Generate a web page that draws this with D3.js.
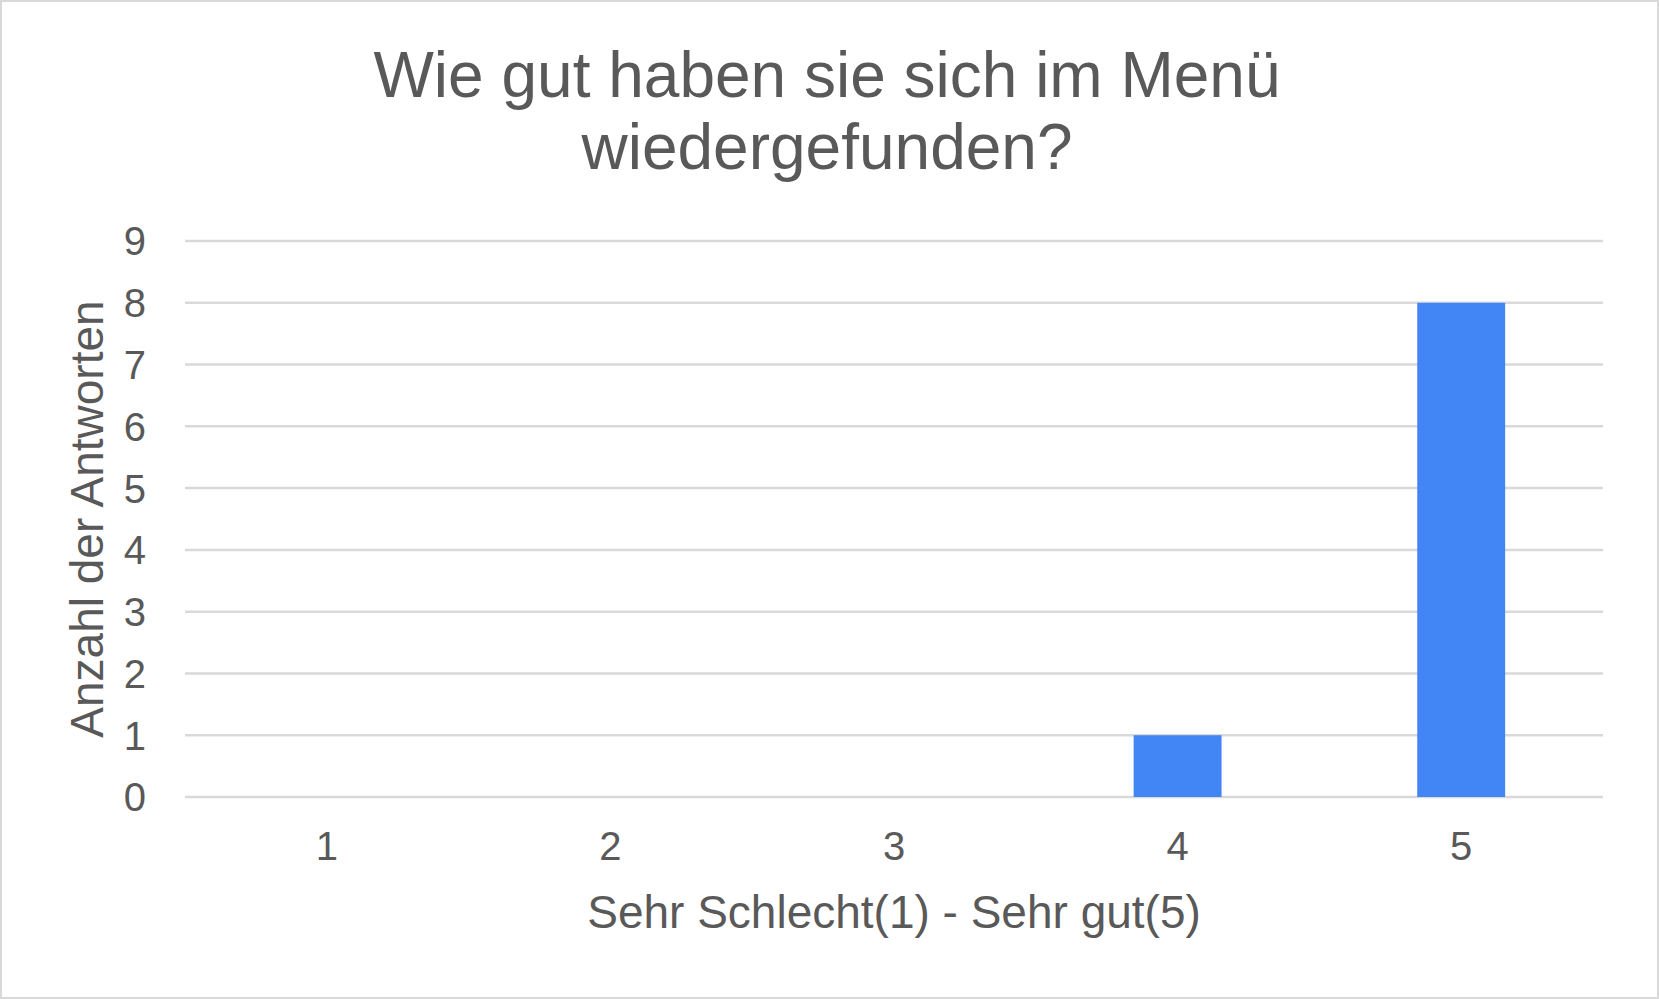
<!DOCTYPE html>
<html>
<head>
<meta charset="utf-8">
<script src="https://cdn.jsdelivr.net/npm/d3@7"></script>
<style>
  body { margin: 0; background: #fff; }
  svg { display: block; font-family: "Liberation Sans", Arial, sans-serif; }
</style>
</head>
<body>
<svg width="1659" height="999"></svg>
<script>
// chart data
var categories = ["1", "2", "3", "4", "5"];
var counts = [0, 0, 0, 1, 8];
var yTicks = [0, 1, 2, 3, 4, 5, 6, 7, 8, 9];
var titleLines = ["Wie gut haben sie sich im Menü", "wiedergefunden?"];

var svg = d3.select("svg"),
    width = +svg.attr("width"),
    height = +svg.attr("height");

var margin = {left: 185, right: 56, top: 241, bottom: 202};
var textColor = "#595959";

// outer frame
svg.append("rect")
    .attr("x", 1).attr("y", 1)
    .attr("width", width - 2).attr("height", height - 2)
    .attr("fill", "#fff")
    .attr("stroke", "#d9d9d9")
    .attr("stroke-width", 2);

var x = d3.scaleBand()
    .domain(categories)
    .range([margin.left, width - margin.right])
    .paddingInner(0.69)
    .paddingOuter(0.345);

var y = d3.scaleLinear()
    .domain([0, 9])
    .range([height - margin.bottom, margin.top]);

// gridlines
svg.append("g")
    .selectAll("line")
    .data(yTicks)
    .join("line")
    .attr("x1", margin.left)
    .attr("x2", width - margin.right)
    .attr("y1", d => y(d))
    .attr("y2", d => y(d))
    .attr("stroke", "#d9d9d9")
    .attr("stroke-width", 2.5);

// y tick labels
svg.append("g")
    .selectAll("text")
    .data(yTicks)
    .join("text")
    .attr("x", margin.left - 39)
    .attr("y", d => y(d))
    .attr("dy", "0.36em")
    .attr("text-anchor", "end")
    .attr("font-size", 40)
    .attr("fill", textColor)
    .text(d => d);

// bars
svg.append("g")
    .selectAll("rect")
    .data(counts)
    .join("rect")
    .attr("x", (d, i) => x(categories[i]))
    .attr("y", d => y(d))
    .attr("width", x.bandwidth())
    .attr("height", d => y(0) - y(d))
    .attr("fill", "#4285f4");

// x tick labels
svg.append("g")
    .selectAll("text")
    .data(categories)
    .join("text")
    .attr("x", d => x(d) + x.bandwidth() / 2)
    .attr("y", 860)
    .attr("text-anchor", "middle")
    .attr("font-size", 40)
    .attr("fill", textColor)
    .text(d => d);

// axis titles
svg.append("text")
    .attr("x", (margin.left + width - margin.right) / 2)
    .attr("y", 928)
    .attr("text-anchor", "middle")
    .attr("font-size", 46)
    .attr("fill", textColor)
    .text("Sehr Schlecht(1) - Sehr gut(5)");

svg.append("text")
    .attr("transform", "translate(103," + (y(0) + y(9)) / 2 + ") rotate(-90)")
    .attr("text-anchor", "middle")
    .attr("font-size", 46)
    .attr("fill", textColor)
    .text("Anzahl der Antworten");

// title
svg.append("g")
    .selectAll("text")
    .data(titleLines)
    .join("text")
    .attr("x", 827)
    .attr("y", (d, i) => 97 + i * 72)
    .attr("text-anchor", "middle")
    .attr("font-size", 64)
    .attr("fill", textColor)
    .text(d => d);
</script>
</body>
</html>
